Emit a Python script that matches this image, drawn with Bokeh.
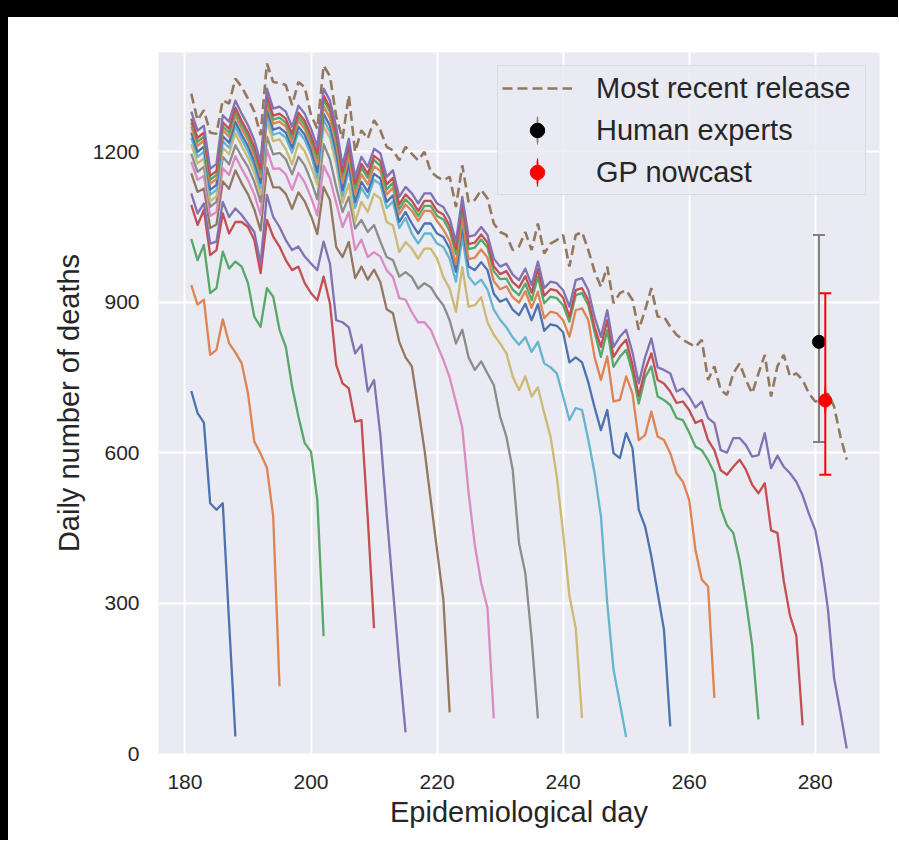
from bokeh.plotting import figure
from bokeh.models import Range1d, FixedTicker, Legend, LegendItem, Spacer
from bokeh.layouts import column, row
from bokeh.embed import file_html
from bokeh.resources import INLINE

# ---------------- data ----------------
first_day = 181
release_ends = [188, 195, 202, 210, 215, 222, 229, 236, 243, 250, 257, 264, 271, 278, 285]

rel_188 = [723, 679, 660, 499, 486, 499, 262, 34]
rel_195 = [934, 895, 905, 795, 805, 866, 818, 800, 778, 718, 622, 598, 570, 473, 134]
rel_202 = [1026, 984, 1014, 918, 928, 1001, 967, 981, 971, 938,
           871, 851, 928, 911, 845, 811, 732, 672, 619, 602,
           506, 234]
rel_210 = [1094, 1054, 1084, 994, 1004, 1077, 1037, 1060, 1060, 1050,
           1024, 958, 1064, 1031, 1011, 984, 964, 971, 938, 918,
           904, 951, 898, 775, 738, 728, 662, 665, 470, 250]
rel_215 = [1117, 1077, 1097, 1017, 1021, 1100, 1070, 1087, 1074, 1057,
           1040, 977, 1114, 1070, 1050, 1024, 1004, 1011, 991, 977,
           964, 1021, 977, 864, 860, 850, 798, 815, 722, 745,
           636, 478, 328, 178, 42]
rel_222 = [1157, 1120, 1127, 1048, 1055, 1141, 1126, 1163, 1137, 1115,
           1085, 1043, 1168, 1129, 1129, 1116, 1086, 1119, 1101, 1072,
           1036, 1130, 1104, 1010, 990, 1020, 948, 971, 945, 965,
           940, 886, 878, 821, 790, 772, 690, 606, 505, 405,
           307, 82]
rel_229 = [1180, 1144, 1152, 1072, 1080, 1167, 1154, 1191, 1166, 1144,
           1115, 1074, 1205, 1166, 1167, 1155, 1124, 1158, 1139, 1109,
           1073, 1172, 1147, 1098, 1050, 1080, 1004, 1025, 990, 1000,
           991, 964, 950, 908, 905, 880, 860, 860, 845, 815,
           785, 750, 700, 650, 520, 415, 340, 290, 70]
rel_236 = [1196, 1160, 1170, 1090, 1100, 1190, 1175, 1213, 1190, 1170,
           1140, 1100, 1230, 1195, 1198, 1185, 1155, 1190, 1173, 1142,
           1105, 1215, 1185, 1130, 1080, 1110, 1047, 1064, 1040, 1054,
           1021, 990, 984, 951, 960, 950, 927, 938, 930, 910,
           894, 864, 818, 845, 790, 765, 782, 758, 735, 672,
           632, 566, 420, 360, 230, 70]
rel_243 = [1215, 1177, 1187, 1101, 1111, 1208, 1195, 1237, 1211, 1188,
           1158, 1115, 1261, 1221, 1225, 1205, 1175, 1217, 1201, 1171,
           1135, 1251, 1227, 1175, 1098, 1136, 1060, 1100, 1080, 1116,
           1107, 1060, 1053, 1000, 1020, 1007, 987, 1007, 1007, 987,
           950, 927, 881, 970, 891, 894, 910, 860, 835, 818,
           798, 752, 725, 752, 712, 730, 679, 632, 552, 440,
           315, 250, 71]
rel_250 = [1228, 1190, 1200, 1114, 1124, 1221, 1208, 1250, 1224, 1201,
           1171, 1128, 1274, 1234, 1238, 1228, 1198, 1240, 1224, 1194,
           1148, 1264, 1240, 1188, 1111, 1164, 1088, 1128, 1108, 1144,
           1135, 1088, 1101, 1048, 1068, 1037, 1017, 1037, 1037, 1017,
           1010, 987, 941, 1030, 951, 935, 945, 925, 885, 865,
           850, 830, 815, 830, 801, 821, 778, 770, 758, 712,
           665, 689, 685, 625, 559, 473, 300, 167, 101, 33]
rel_257 = [1238, 1200, 1210, 1124, 1134, 1231, 1218, 1260, 1234, 1211,
           1181, 1138, 1284, 1244, 1248, 1238, 1208, 1250, 1234, 1204,
           1160, 1276, 1252, 1200, 1123, 1176, 1100, 1140, 1120, 1156,
           1147, 1100, 1113, 1060, 1080, 1057, 1037, 1057, 1057, 1037,
           1030, 1007, 961, 1050, 971, 964, 980, 964, 917, 901,
           907, 885, 874, 897, 864, 896, 843, 856, 853, 840,
           780, 790, 780, 740, 690, 645, 685, 599, 589, 639,
           609, 486, 453, 393, 320, 247, 54]
rel_264 = [1250, 1212, 1222, 1136, 1146, 1243, 1230, 1272, 1246, 1223,
           1193, 1150, 1296, 1256, 1260, 1250, 1220, 1262, 1246, 1216,
           1175, 1291, 1267, 1215, 1138, 1191, 1115, 1155, 1135, 1171,
           1162, 1115, 1128, 1075, 1095, 1082, 1062, 1082, 1082, 1062,
           1045, 1022, 976, 1065, 986, 989, 1005, 989, 942, 926,
           932, 910, 899, 922, 889, 921, 868, 881, 878, 864,
           831, 884, 888, 864, 790, 745, 792, 702, 705, 752,
           718, 625, 635, 682, 632, 625, 599, 559, 542, 506,
           406, 347, 333, 111]
rel_271 = [1258, 1220, 1230, 1144, 1154, 1251, 1238, 1280, 1254, 1231,
           1201, 1158, 1304, 1264, 1268, 1258, 1228, 1270, 1254, 1224,
           1188, 1304, 1280, 1228, 1151, 1204, 1128, 1168, 1148, 1184,
           1172, 1125, 1138, 1085, 1105, 1092, 1072, 1092, 1092, 1072,
           1065, 1042, 996, 1085, 1006, 1009, 1025, 1009, 962, 946,
           947, 925, 914, 937, 904, 951, 898, 911, 908, 894,
           861, 914, 918, 894, 840, 791, 844, 771, 791, 805,
           760, 698, 750, 772, 712, 705, 695, 669, 665, 640,
           612, 605, 585, 560, 490, 455, 440, 385, 305, 215,
           68]
rel_278 = [1266, 1228, 1238, 1152, 1162, 1259, 1246, 1288, 1262, 1239,
           1209, 1166, 1312, 1272, 1276, 1266, 1236, 1278, 1262, 1232,
           1196, 1312, 1288, 1236, 1159, 1212, 1136, 1176, 1156, 1192,
           1182, 1135, 1148, 1095, 1115, 1102, 1082, 1102, 1102, 1082,
           1075, 1052, 1006, 1095, 1016, 1019, 1035, 1019, 972, 956,
           962, 940, 929, 952, 919, 966, 913, 926, 923, 909,
           871, 924, 928, 904, 850, 811, 864, 791, 811, 825,
           775, 713, 765, 798, 745, 738, 722, 699, 702, 685,
           659, 665, 625, 605, 565, 556, 572, 586, 566, 536,
           519, 539, 445, 440, 345, 275, 235, 56]
rel_285 = [1280, 1242, 1252, 1166, 1176, 1273, 1260, 1302, 1276, 1253,
           1223, 1180, 1326, 1286, 1290, 1280, 1250, 1292, 1276, 1246,
           1210, 1326, 1302, 1250, 1173, 1226, 1150, 1190, 1170, 1206,
           1197, 1150, 1163, 1110, 1130, 1117, 1097, 1117, 1117, 1097,
           1090, 1067, 1021, 1110, 1031, 1034, 1050, 1034, 987, 971,
           977, 955, 944, 967, 934, 981, 928, 941, 938, 924,
           891, 944, 948, 924, 870, 831, 884, 811, 831, 845,
           800, 738, 790, 828, 770, 765, 758, 722, 728, 712,
           690, 702, 669, 659, 605, 600, 629, 629, 615, 592,
           595, 639, 569, 594, 572, 559, 542, 515, 478, 446,
           380, 290, 150, 82, 10]

most_recent = [1316, 1263, 1283, 1238, 1236, 1303, 1296, 1346, 1329, 1306,
               1280, 1233, 1376, 1339, 1337, 1333, 1293, 1339, 1329, 1273,
               1246, 1372, 1351, 1270, 1226, 1313, 1200, 1243, 1226, 1263,
               1243, 1210, 1203, 1183, 1210, 1196, 1183, 1200, 1160, 1150,
               1143, 1150, 1090, 1173, 1100, 1104, 1124, 1107, 1057, 1040,
               1034, 1004, 1011, 1040, 1004, 1057, 997, 1017, 1024, 1034,
               971, 1034, 1040, 1004, 961, 931, 971, 898, 918, 924,
               905, 845, 884, 928, 871, 871, 851, 835, 825, 818,
               811, 825, 745, 772, 725, 715, 758, 778, 745, 718,
               758, 795, 712, 772, 795, 752, 758, 745, 718, 702,
               705, 718, 692, 632, 586]

releases = [rel_188, rel_195, rel_202, rel_210, rel_215, rel_222, rel_229, rel_236,
            rel_243, rel_250, rel_257, rel_264, rel_271, rel_278, rel_285]

human_day, human_mean, human_low, human_high = [280.6], [821], [621], [1034]
gp_day, gp_mean, gp_low, gp_high = [281.6], [704], [556], [918]

x_ticks = [180, 200, 220, 240, 260, 280]
y_ticks = [0, 300, 600, 900, 1200]

palette = ["#4C72B0", "#DD8452", "#55A868", "#C44E52", "#8172B3",
           "#937860", "#DA8BC3", "#8C8C8C", "#CCB974", "#64B5CD"]

FONT = "Liberation Sans"
TXT = "#262626"

# ---------------- figure ----------------
p = figure(width=890, height=823, output_backend="svg", toolbar_location=None,
           x_range=Range1d(175.8, 290.2), y_range=Range1d(0, 1398),
           min_border_left=150, min_border_right=19, min_border_top=35,
           min_border_bottom=87)
p.background_fill_color = "#EAEAF2"
p.border_fill_color = "white"
p.outline_line_color = None

for ax in (p.xaxis, p.yaxis):
    ax.axis_line_color = None
    ax.major_tick_line_color = None
    ax.minor_tick_line_color = None
    ax.major_label_text_font = FONT
    ax.major_label_text_font_size = "21px"
    ax.major_label_text_color = TXT
    ax.axis_label_text_font = FONT
    ax.axis_label_text_font_size = "29px"
    ax.axis_label_text_font_style = "normal"
    ax.axis_label_text_color = TXT

p.xaxis.ticker = FixedTicker(ticks=x_ticks)
p.yaxis.ticker = FixedTicker(ticks=y_ticks)
p.xaxis.axis_label = "Epidemiological day"
p.yaxis.axis_label = "Daily number of deaths"
p.xaxis.major_label_standoff = 15
p.yaxis.major_label_standoff = 13
p.xaxis.axis_label_standoff = 4
p.yaxis.axis_label_standoff = 5

for g in (p.xgrid, p.ygrid):
    g.grid_line_color = "white"
    g.grid_line_width = 2
p.xgrid.ticker = FixedTicker(ticks=x_ticks)
p.ygrid.ticker = FixedTicker(ticks=y_ticks)

for i, (end, vals) in enumerate(zip(release_ends, releases)):
    days = list(range(first_day, end + 1))
    p.line(days, vals, line_color=palette[i % 10], line_width=2.3, line_join="round")

all_days = list(range(first_day, release_ends[-1] + 1))
r_dash = p.line(all_days, most_recent, line_color="#937860", line_width=2.6,
                line_dash="10 5")

# error bars
def errbar(xs, ms, lo, hi, bar_color, dot_color):
    p.segment(x0=xs, y0=lo, x1=xs, y1=hi, line_color=bar_color, line_width=2)
    p.scatter(x=xs + xs, y=lo + hi, marker="dash", size=12,
              line_color=bar_color, line_width=2)
    bar = p.ellipse(x=xs, y=ms, width=2.6, height=30, width_units="screen",
                    height_units="screen", fill_color=bar_color, line_color=None)
    dot = p.scatter(x=xs, y=ms, marker="circle", size=13,
                    fill_color=dot_color, line_color=dot_color)
    return bar, dot

h_bar, h_dot = errbar(human_day, human_mean, human_low, human_high, "#808080", "#000000")
g_bar, g_dot = errbar(gp_day, gp_mean, gp_low, gp_high, "#FF0000", "#FF0000")

legend = Legend(items=[
    LegendItem(label="Most recent release", renderers=[r_dash]),
    LegendItem(label="Human experts", renderers=[h_bar, h_dot]),
    LegendItem(label="GP nowcast", renderers=[g_bar, g_dot]),
], location="top_right")
legend.margin = 13
legend.padding = 4
legend.spacing = 6
legend.glyph_width = 70
legend.glyph_height = 36
legend.label_height = 36
legend.label_width = 265
legend.label_standoff = 24
legend.label_text_font = FONT
legend.label_text_font_size = "29px"
legend.label_text_color = TXT
legend.background_fill_color = "#EAEAF2"
legend.background_fill_alpha = 0.8
legend.border_line_color = "#CCCCCC"
legend.border_line_width = 1
p.add_layout(legend)

black = {"background-color": "#000000"}
layout = row(Spacer(width=8, height=840, styles=black),
             column(Spacer(width=890, height=17, styles=black), p))
html = file_html(layout, INLINE, title="plot")
html = html.replace("</head>",
                    "<style>html, body { overflow: hidden; }</style></head>", 1)
open("out.html", "w").write(html)
